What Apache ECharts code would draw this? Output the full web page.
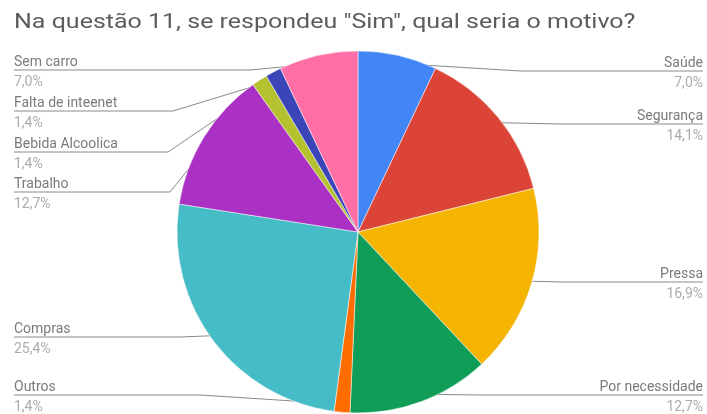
<!DOCTYPE html>
<html>
<head>
<meta charset="utf-8">
<script src="https://cdn.jsdelivr.net/npm/echarts@6/dist/echarts.min.js"></script>
<style>
  html, body { margin: 0; padding: 0; background: #fff; }
  #chart { width: 707px; height: 414px; }
</style>
</head>
<body>
<div id="chart"></div>
<script>
// Answers (clockwise from 12 o'clock) and number of respondents for each
const categories = ['Saúde', 'Segurança', 'Pressa', 'Por necessidade', 'Outros',
                    'Compras', 'Trabalho', 'Bebida Alcoolica', 'Falta de inteenet', 'Sem carro'];
const counts = [5, 10, 12, 9, 1, 18, 9, 1, 1, 5];

const titleText = 'Na questão 11, se respondeu "Sim", qual seria o motivo?';

const colors = ['#4285F4', '#DB4437', '#F4B400', '#0F9D58', '#FF6D00',
                '#46BDC6', '#AB30C4', '#B4C22F', '#3B45B8', '#FF6FA5'];

// Where each callout sits: side of the chart, baseline of its rule, and where the rule bends
const calloutLayout = [
  { side: 'right', y: 71,  bend: 520 },
  { side: 'right', y: 124, bend: 560 },
  { side: 'right', y: 282, bend: 560 },
  { side: 'right', y: 395, bend: 480 },
  { side: 'left',  y: 395, bend: 200 },
  { side: 'left',  y: 337, bend: 180 },
  { side: 'left',  y: 192, bend: 170 },
  { side: 'left',  y: 152, bend: 168 },
  { side: 'left',  y: 111, bend: 173 },
  { side: 'left',  y: 70,  bend: 250 }
];

const CX = 358, CY = 232, R = 181;
const LEFT_X = 14, RIGHT_X = 703;
const total = counts.reduce((a, b) => a + b, 0);

const chart = echarts.init(document.getElementById('chart'), null, { renderer: 'canvas' });

chart.setOption({
  animation: false,
  // wide, light heading set as a graphic so it can be stretched horizontally
  graphic: [{
    type: 'text',
    x: 14,
    y: 23,
    scaleX: 1.25,
    style: {
      text: titleText,
      fontFamily: 'Roboto',
      fontSize: 20,
      fill: '#5c5c5c',
      textVerticalAlign: 'middle'
    }
  }],
  series: [{
    type: 'pie',
    center: [CX, CY],
    radius: R,
    startAngle: 90,
    clockwise: true,
    avoidLabelOverlap: false,
    color: colors,
    data: categories.map((name, i) => ({ name: name, value: counts[i] })),
    itemStyle: { borderColor: '#fff', borderWidth: 0.5 },
    label: {
      show: true,
      position: 'outside',
      fontFamily: 'Roboto',
      formatter: function (p) {
        const pct = (p.value / total * 100).toFixed(1).replace('.', ',') + '%';
        return '{n|' + p.name + '}\n{v|' + pct + '}';
      },
      rich: {
        n: { fontFamily: 'Roboto', fontSize: 14, color: '#7a7a7a', lineHeight: 20 },
        v: { fontFamily: 'Roboto', fontSize: 14, color: '#ababab', lineHeight: 20 }
      }
    },
    labelLine: {
      show: true,
      showAbove: false,
      lineStyle: { color: '#8a8a8a', width: 1 }
    },
    labelLayout: function (p) {
      const L = calloutLayout[p.dataIndex];
      const edge = p.labelLinePoints && p.labelLinePoints[0];
      let sx = CX, sy = CY;
      if (edge) {
        // start the rule a little inside the slice; it runs beneath the pie
        sx = CX + (edge[0] - CX) * 0.955;
        sy = CY + (edge[1] - CY) * 0.955;
      }
      const endX = L.side === 'left' ? LEFT_X : RIGHT_X;
      return {
        x: endX,
        y: L.y + 2,
        align: L.side,
        verticalAlign: 'middle',
        labelLinePoints: [[sx, sy], [L.bend, L.y], [endX, L.y]]
      };
    }
  }]
});
</script>
</body>
</html>
